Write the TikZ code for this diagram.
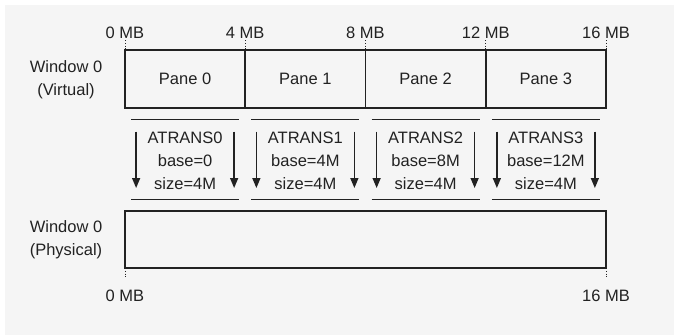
\documentclass[tikz,border=0pt]{standalone}
\usepackage{fontspec}
\setmainfont{Liberation Sans}
\usetikzlibrary{positioning,arrows.meta,calc}
\definecolor{bggray}{HTML}{F5F5F5}
\definecolor{inkgray}{HTML}{222222}

\begin{document}
\begin{tikzpicture}[x=1pt,y=-1pt,
  every node/.style={font=\fontsize{16.5}{23}\selectfont, text=inkgray},
  pane/.style={draw=inkgray, line width=1.6pt, minimum width=120.25pt, minimum height=58pt, inner sep=0pt, outer sep=0pt},
  mblabel/.style={inner sep=1pt},
  trbox/.style={minimum width=108pt, minimum height=80pt, inner sep=0pt, outer sep=0pt, align=center},
  bar/.style={draw=inkgray, line width=1.4pt},
  maparrow/.style={draw=inkgray, line width=1.4pt, -{Triangle[length=10pt,width=8pt]}},
  tickline/.style={draw=inkgray, line width=0.8pt, dotted}]
\useasboundingbox (0,0) rectangle (674,335);
\fill[bggray] (5,5) rectangle (674,335);

% virtual window
\node[pane] (pane0) at (185.125,79) {Pane 0};
\node[pane, right=0pt of pane0] (pane1) {Pane 1};
\node[pane, right=0pt of pane1] (pane2) {Pane 2};
\node[pane, right=0pt of pane2] (pane3) {Pane 3};
\node[align=center] (vlabel) at (66,79.5) {Window 0\\(Virtual)};

% offsets on top
\node[mblabel, above=10pt of pane0.north west] (mb0) {0 MB};
\node[mblabel, above=10pt of pane1.north west] (mb4) {4 MB};
\node[mblabel, above=10pt of pane2.north west] (mb8) {8 MB};
\node[mblabel, above=10pt of pane3.north west] (mb12) {12 MB};
\node[mblabel, above=10pt of pane3.north east] (mb16) {16 MB};
\draw[tickline] (mb0.south) -- (pane0.north west);
\draw[tickline] (mb4.south) -- (pane1.north west);
\draw[tickline] (mb8.south) -- (pane2.north west);
\draw[tickline] (mb12.south) -- (pane3.north west);
\draw[tickline] (mb16.south) -- (pane3.north east);

% translations
\foreach \i/\b in {0/0,1/4M,2/8M,3/12M} {
  \node[trbox, below=11.5pt of pane\i] (tr\i) {};
  \node[align=center] (lbl\i) at ($(tr\i.center)+(0,1.5)$) {ATRANS\i\\base=\b\\size=4M};
  \draw[bar] (tr\i.north west) -- (tr\i.north east);
  \draw[bar] (tr\i.south west) -- (tr\i.south east);
  \draw[maparrow] ($(tr\i.north west)+(5,12)$) -- ($(tr\i.south west)+(5,-11.5)$);
  \draw[maparrow] ($(tr\i.north east)+(-5,12)$) -- ($(tr\i.south east)+(-5,-11.5)$);
}

% physical window
\node[pane, minimum width=481pt, minimum height=57pt] (phys) at (365.5,239.5) {};
\node[align=center] (plabel) at (66,239.5) {Window 0\\(Physical)};
\coordinate (t0) at ($(phys.south west)+(0,10)$);
\coordinate (t16) at ($(phys.south east)+(0,10)$);
\draw[tickline] (phys.south west) -- (t0);
\draw[tickline] (phys.south east) -- (t16);
\node[mblabel, below=21pt of phys.south west] (pmb0) {0 MB};
\node[mblabel, below=21pt of phys.south east] (pmb16) {16 MB};
\end{tikzpicture}
\end{document}
